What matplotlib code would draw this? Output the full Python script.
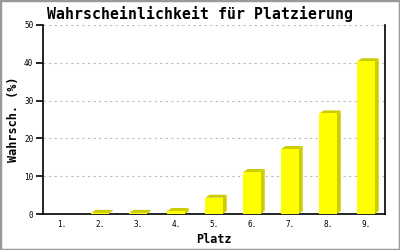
import matplotlib
matplotlib.use("Agg")
import matplotlib.pyplot as plt
from matplotlib.patches import Polygon, Rectangle

categories = ["1.", "2.", "3.", "4.", "5.", "6.", "7.", "8.", "9."]
values = [0.0, 0.3, 0.3, 0.8, 4.3, 11.1, 17.2, 26.6, 40.4]
yticks = [0, 10, 20, 30, 40, 50]

fig = plt.figure(figsize=(4, 2.5), dpi=100)
fig.patch.set_facecolor("white")
ax = fig.add_axes([0.1075, 0.144, 0.855, 0.756])
font = "DejaVu Sans Mono"

x = list(range(1, len(categories) + 1))
w = 0.45
dx = 0.11
dy = 0.8
side = "#cccc00"
front = "#ffff00"

for xi, v in zip(x, values):
    if v <= 0:
        continue
    l, r = xi - w / 2, xi + w / 2
    ax.add_patch(Polygon([(r, 0), (r + dx, dy), (r + dx, v + dy), (r, v)],
                         closed=True, facecolor=side, edgecolor="none", zorder=3))
    ax.add_patch(Polygon([(l, v), (l + dx, v + dy), (r + dx, v + dy), (r, v)],
                         closed=True, facecolor=side, edgecolor="none", zorder=3))
ax.bar(x, values, width=w, color=front, edgecolor="none", zorder=4)

ax.set_xlim(0.5, 9.5)
ax.set_ylim(0, 50)
ax.set_xticks(x)
ax.set_xticklabels(categories, fontfamily=font, fontsize=5.5)
ax.set_yticks(yticks)
ax.set_yticklabels([str(t) for t in yticks], fontfamily=font, fontsize=5.5)
ax.tick_params(axis="x", length=0, pad=4)
ax.tick_params(axis="y", length=5, width=1.2, direction="out", pad=2)
ax.yaxis.grid(True, linestyle=(0, (2, 3)), color="#bbbbbb", linewidth=0.8)
ax.set_axisbelow(True)
for s in ["left", "bottom", "right"]:
    ax.spines[s].set_linewidth(1.2)
ax.spines["top"].set_visible(False)

fig.text(0.5, 0.945, "Wahrscheinlichkeit für Platzierung", fontfamily=font,
         fontsize=10.7, fontweight="bold", ha="center", va="center")
ax.set_xlabel("Platz", fontfamily=font, fontsize=8.5, fontweight="bold", labelpad=3)
ax.set_ylabel("Wahrsch. (%)", fontfamily=font, fontsize=8.5, fontweight="bold",
              va="center")
ax.yaxis.set_label_coords(-0.085, 0.5)

fig.add_artist(Rectangle((0, 0), 1, 1, transform=fig.transFigure, fill=False,
                         edgecolor="#999999", linewidth=2.5))
fig.savefig("out.png", dpi=100)
